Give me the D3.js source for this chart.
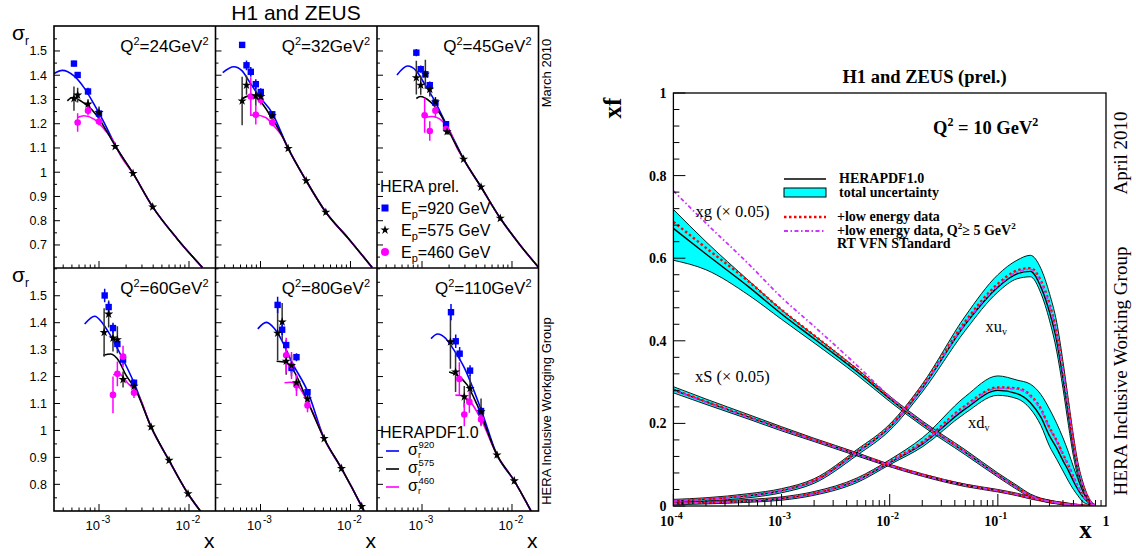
<!DOCTYPE html>
<html><head><meta charset="utf-8">
<script src="https://cdn.jsdelivr.net/npm/d3@7/dist/d3.min.js"></script>
<style>body{margin:0;background:#fff;} svg{display:block;}</style>
</head><body>
<svg id="c" width="1136" height="556"></svg>
<script>
// ---------- left figure data: reduced cross sections ----------
var q2Vals = [24, 32, 45, 60, 80, 110];

// [x, sigma_r, error]
var pts920 = [
  [[5.27e-4,1.448,0.012],[5.79e-4,1.401,0.012],[7.55e-4,1.333,0.015],[1.0e-3,1.242,0.012]],
  [[6.25e-4,1.525,0.012],[6.99e-4,1.441,0.02],[7.8e-4,1.414,0.02],[8.87e-4,1.363,0.02],[1.007e-3,1.331,0.015],[1.35e-3,1.239,0.01]],
  [[8.65e-4,1.493,0.015],[9.68e-4,1.425,0.015],[1.09e-3,1.404,0.015],[1.22e-3,1.359,0.015],[1.41e-3,1.287,0.012],[1.85e-3,1.198,0.01]],
  [[1.156e-3,1.501,0.025],[1.28e-3,1.458,0.02],[1.43e-3,1.38,0.02],[1.6e-3,1.321,0.02],[1.85e-3,1.263,0.02],[2.45e-3,1.177,0.012]],
  [[1.55e-3,1.466,0.03],[1.74e-3,1.374,0.02],[1.93e-3,1.317,0.02],[2.21e-3,1.232,0.02],[2.51e-3,1.272,0.015],[3.33e-3,1.142,0.012]],
  [[2.1e-3,1.439,0.03],[2.37e-3,1.331,0.025],[2.62e-3,1.285,0.025],[3.42e-3,1.222,0.02],[4.53e-3,1.072,0.015]]
];
var pts575 = [
  [[5.27e-4,1.304,0.05],[5.79e-4,1.318,0.03],[7.55e-4,1.281,0.02],[1.0e-3,1.246,0.025],[1.51e-3,1.106,0.01],[2.39e-3,0.995,0.01],[3.95e-3,0.857,0.01]],
  [[6.25e-4,1.294,0.1],[6.99e-4,1.359,0.04],[8.87e-4,1.315,0.04],[1.007e-3,1.312,0.02],[1.35e-3,1.233,0.015],[2.03e-3,1.098,0.01],[3.22e-3,0.965,0.01],[5.32e-3,0.835,0.01]],
  [[8.65e-4,1.39,0.07],[9.68e-4,1.359,0.04],[1.09e-3,1.404,0.06],[1.22e-3,1.342,0.03],[1.41e-3,1.29,0.02],[1.9e-3,1.167,0.012],[2.9e-3,1.054,0.01],[4.53e-3,0.939,0.01],[7.41e-3,0.81,0.01]],
  [[1.14e-3,1.364,0.09],[1.28e-3,1.432,0.05],[1.43e-3,1.343,0.05],[1.6e-3,1.337,0.05],[1.85e-3,1.189,0.03],[2.45e-3,1.164,0.015],[3.79e-3,1.013,0.01],[6.0e-3,0.889,0.01],[9.75e-3,0.765,0.01]],
  [[1.55e-3,1.361,0.1],[1.74e-3,1.403,0.07],[1.93e-3,1.257,0.05],[2.21e-3,1.241,0.04],[2.51e-3,1.177,0.03],[3.33e-3,1.117,0.015],[5.1e-3,0.97,0.01],[7.94e-3,0.859,0.01],[1.33e-2,0.718,0.01]],
  [[2.07e-3,1.329,0.1],[2.36e-3,1.217,0.074],[2.95e-3,1.125,0.04],[3.42e-3,1.156,0.05],[4.53e-3,1.069,0.05],[6.81e-3,0.909,0.012],[1.06e-2,0.813,0.012]]
];
var pts460 = [
  [[5.79e-4,1.205,0.038],[7.55e-4,1.254,0.02],[1.0e-3,1.209,0.015]],
  [[7.8e-4,1.312,0.08],[8.87e-4,1.237,0.04],[1.007e-3,1.298,0.02],[1.35e-3,1.205,0.015]],
  [[1.07e-3,1.235,0.072],[1.22e-3,1.17,0.04],[1.41e-3,1.254,0.03],[1.85e-3,1.178,0.015]],
  [[1.43e-3,1.132,0.068],[1.6e-3,1.21,0.046],[1.85e-3,1.274,0.04],[2.45e-3,1.14,0.02]],
  [[1.93e-3,1.279,0.065],[2.21e-3,1.241,0.05],[2.51e-3,1.168,0.04],[3.33e-3,1.093,0.025]],
  [[2.6e-3,1.191,0.062],[2.95e-3,1.059,0.043],[3.36e-3,1.106,0.04],[4.53e-3,1.041,0.025]]
];

// HERAPDF1.0 predictions, low-x part per beam energy, then common tail
var fit920 = [
  [[3.16e-4,1.407],[3.91e-4,1.42],[5.27e-4,1.397],[6.81e-4,1.349],[8.8e-4,1.281],[1.14e-3,1.205],[1.53e-3,1.109]],
  [[3.81e-4,1.411],[5.05e-4,1.435],[6.25e-4,1.418],[7.41e-4,1.377],[9.57e-4,1.315],[1.35e-3,1.244]],
  [[5.27e-4,1.401],[6.93e-4,1.438],[8.65e-4,1.418],[1.045e-3,1.37],[1.35e-3,1.301],[1.82e-3,1.205],[2.45e-3,1.109]],
  [[6.93e-4,1.395],[8.95e-4,1.424],[1.09e-3,1.399],[1.29e-3,1.362],[1.74e-3,1.281],[2.45e-3,1.177]],
  [[9.33e-4,1.377],[1.156e-3,1.401],[1.41e-3,1.38],[1.67e-3,1.343],[2.25e-3,1.251],[3.33e-3,1.146]],
  [[1.26e-3,1.341],[1.49e-3,1.358],[1.82e-3,1.343],[2.25e-3,1.3],[2.9e-3,1.238],[4.53e-3,1.078]]
];
var fit575 = [
  [[4.45e-4,1.294],[5.05e-4,1.308],[6.81e-4,1.285],[9.57e-4,1.232],[1.24e-3,1.164],[1.53e-3,1.106]],
  [[6.35e-4,1.304],[7.41e-4,1.315],[9.57e-4,1.298],[1.29e-3,1.233],[1.74e-3,1.15]],
  [[8.65e-4,1.304],[9.57e-4,1.312],[1.24e-3,1.29],[1.6e-3,1.239],[2.25e-3,1.13]],
  [[1.116e-3,1.279],[1.35e-3,1.284],[1.67e-3,1.257],[1.98e-3,1.207],[2.55e-3,1.152]],
  [[1.51e-3,1.257],[1.9e-3,1.253],[2.35e-3,1.22],[3.16e-3,1.127]],
  [[2.0e-3,1.217],[2.45e-3,1.205],[3.16e-3,1.17],[4.09e-3,1.096]]
];
var fit460 = [
  [[5.74e-4,1.226],[6.81e-4,1.233],[8.8e-4,1.219],[1.14e-3,1.178],[1.47e-3,1.123],[1.74e-3,1.068]],
  [[7.74e-4,1.235],[8.8e-4,1.236],[1.14e-3,1.226],[1.41e-3,1.191],[1.74e-3,1.148]],
  [[1.09e-3,1.226],[1.29e-3,1.23],[1.67e-3,1.212],[2.07e-3,1.164],[2.45e-3,1.1]],
  [[1.44e-3,1.207],[1.67e-3,1.21],[2.07e-3,1.177],[2.78e-3,1.127]],
  [[1.85e-3,1.177],[2.15e-3,1.179],[2.67e-3,1.161],[3.3e-3,1.109],[3.91e-3,1.059]],
  [[2.35e-3,1.131],[2.78e-3,1.13],[3.45e-3,1.106],[4.45e-3,1.047]]
];
var fitTail = [
  [[2.39e-3,0.995],[3.95e-3,0.857],[7.41e-3,0.725],[1.41e-2,0.607]],
  [[2.03e-3,1.098],[3.22e-3,0.965],[5.32e-3,0.835],[9.57e-3,0.725],[1.74e-2,0.607]],
  [[2.9e-3,1.054],[4.53e-3,0.939],[7.41e-3,0.81],[1.24e-2,0.698],[1.98e-2,0.607]],
  [[3.79e-3,1.013],[6.0e-3,0.889],[9.75e-3,0.765],[1.35e-2,0.699]],
  [[5.1e-3,0.97],[7.94e-3,0.859],[1.33e-2,0.718],[1.42e-2,0.699]],
  [[6.81e-3,0.909],[1.06e-2,0.813],[1.64e-2,0.699]]
];
var yTickTop = [0.7,0.8,0.9,1,1.1,1.2,1.3,1.4,1.5];
var yTickBot = [0.8,0.9,1,1.1,1.2,1.3,1.4,1.5];

// ---------- right figure data: parton densities at Q2 = 10 GeV2 ----------
var pdfX = [1e-4,2e-4,5e-4,1e-3,2e-3,5e-3,1e-2,2e-2,5e-2,0.1,0.15,0.2,0.25,0.3,0.35,0.4,0.45,0.5,0.55,0.6,0.7,0.8];
var gC   = [0.672,0.61,0.53,0.465,0.405,0.325,0.26,0.2,0.13,0.075,0.045,0.025,0.016,0.011,0.008,0.006,0.004,0.003,0.002,0.001,0,0];
var gHi  = [0.718,0.64,0.545,0.475,0.413,0.332,0.266,0.206,0.136,0.08,0.05,0.029,0.019,0.014,0.01,0.008,0.006,0.004,0.003,0.002,0.001,0];
var gLo  = [0.595,0.572,0.51,0.452,0.395,0.317,0.253,0.194,0.124,0.07,0.04,0.021,0.013,0.008,0.006,0.004,0.002,0.001,0.001,0,0,0];
var gRed = [0.688,0.625,0.543,0.475,0.413,0.33,0.262,0.201,0.131,0.075,0.045,0.025,0.016,0.011,0.008,0.006,0.004,0.003,0.002,0.001,0,0];
var gMag = [0.763,0.685,0.585,0.505,0.435,0.34,0.265,0.202,0.13,0.074,0.044,0.025,0.016,0.011,0.008,0.006,0.004,0.003,0.002,0.001,0,0];
var sC   = [0.281,0.252,0.215,0.187,0.16,0.125,0.098,0.075,0.05,0.037,0.028,0.02,0.015,0.011,0.008,0.006,0.004,0.003,0.002,0.001,0,0];
var sHi  = [0.289,0.259,0.221,0.192,0.164,0.129,0.101,0.078,0.053,0.04,0.031,0.023,0.018,0.014,0.011,0.009,0.007,0.005,0.004,0.003,0.001,0];
var sLo  = [0.274,0.246,0.21,0.182,0.156,0.121,0.095,0.072,0.047,0.034,0.025,0.017,0.012,0.008,0.005,0.003,0.002,0.001,0,0,0,0];
var sRed = [0.282,0.253,0.216,0.188,0.161,0.126,0.099,0.076,0.051,0.037,0.028,0.02,0.015,0.011,0.008,0.006,0.004,0.003,0.002,0.001,0,0];
var sMag = [0.28,0.251,0.214,0.186,0.16,0.125,0.098,0.075,0.05,0.037,0.028,0.02,0.015,0.011,0.008,0.006,0.004,0.003,0.002,0.001,0,0];
var uC   = [0.012,0.016,0.025,0.037,0.06,0.13,0.19,0.285,0.44,0.53,0.562,0.568,0.53,0.47,0.4,0.31,0.22,0.14,0.085,0.05,0.012,0];
var uHi  = [0.016,0.02,0.03,0.042,0.066,0.137,0.198,0.295,0.46,0.56,0.595,0.607,0.575,0.515,0.445,0.35,0.255,0.17,0.105,0.065,0.018,0.002];
var uLo  = [0.008,0.012,0.02,0.032,0.055,0.123,0.183,0.276,0.425,0.518,0.55,0.555,0.515,0.45,0.375,0.285,0.195,0.12,0.07,0.04,0.008,0];
var uRed = [0.013,0.017,0.026,0.038,0.062,0.132,0.193,0.29,0.447,0.538,0.57,0.576,0.545,0.49,0.42,0.33,0.24,0.155,0.095,0.057,0.015,0.001];
var uMag = [0.012,0.016,0.025,0.037,0.06,0.129,0.19,0.286,0.442,0.533,0.566,0.573,0.54,0.485,0.415,0.325,0.235,0.152,0.093,0.055,0.014,0.001];
var dC   = [0.006,0.008,0.012,0.018,0.03,0.062,0.105,0.15,0.235,0.28,0.272,0.25,0.215,0.17,0.14,0.11,0.085,0.06,0.04,0.025,0.007,0];
var dHi  = [0.009,0.011,0.016,0.022,0.035,0.068,0.112,0.165,0.265,0.315,0.305,0.295,0.27,0.235,0.2,0.165,0.13,0.095,0.065,0.04,0.012,0.001];
var dLo  = [0.003,0.005,0.009,0.014,0.026,0.057,0.1,0.143,0.225,0.268,0.26,0.235,0.195,0.145,0.113,0.085,0.06,0.04,0.025,0.012,0.003,0];
var dRed = [0.007,0.009,0.013,0.019,0.031,0.064,0.108,0.155,0.243,0.287,0.285,0.268,0.235,0.19,0.158,0.126,0.098,0.07,0.047,0.03,0.009,0];
var dMag = [0.006,0.008,0.012,0.018,0.03,0.062,0.106,0.152,0.24,0.285,0.283,0.265,0.232,0.188,0.156,0.124,0.096,0.069,0.046,0.029,0.008,0];
var yTickR = [0, 0.2, 0.4, 0.6, 0.8, 1];
var yTickRLab = ["0", "0.2", "0.4", "0.6", "0.8", "1"];

var sans = "'Liberation Sans', Arial, Helvetica, sans-serif";
var serif = "'Liberation Serif', 'Times New Roman', serif";
var svg = d3.select("#c");
var BLUE = "#0000ff", MAG = "#ff00ff";

// ================= LEFT FIGURE =================
var colLeft = [54, 215.5, 377], colW = 161.5;
var rowTop = [26, 268], rowH = [242, 243];
var yDom = [[0.605, 1.603], [0.701, 1.603]];
var xL = d3.scaleLog().domain([3.162e-4, 1.97e-2]).range([0, colW]);

svg.append("text").attr("x", 296).attr("y", 20).attr("text-anchor", "middle")
  .attr("font-family", sans).attr("font-size", 21).text("H1 and ZEUS");

var defs = svg.append("defs");
var line = d3.line().x(function(d){ return xL(d[0]); }).y(function(d){ return d[1]; }).curve(d3.curveMonotoneX);

function drawPanel(i) {
  var col = i % 3, row = Math.floor(i / 3);
  var y = d3.scaleLinear().domain(yDom[row]).range([rowH[row], 0]);
  var g = svg.append("g").attr("transform", "translate(" + colLeft[col] + "," + rowTop[row] + ")");
  defs.append("clipPath").attr("id", "clp" + i).append("rect").attr("width", colW).attr("height", rowH[row]);
  var pg = g.append("g").attr("clip-path", "url(#clp" + i + ")");

  function curve(part, color) {
    var pts = part.concat(fitTail[i]).map(function(d){ return [d[0], y(d[1])]; });
    pg.append("path").attr("d", line(pts)).attr("fill", "none").attr("stroke", color).attr("stroke-width", 1.6);
  }
  curve(fit920[i], BLUE);
  curve(fit460[i], MAG);
  curve(fit575[i], "#000");

  function errs(data, color) {
    pg.selectAll(null).data(data).enter().append("line")
      .attr("x1", function(d){ return xL(d[0]); }).attr("x2", function(d){ return xL(d[0]); })
      .attr("y1", function(d){ return y(d[1] - d[2]); }).attr("y2", function(d){ return y(d[1] + d[2]); })
      .attr("stroke", color).attr("stroke-width", 1.5);
  }
  errs(pts575[i], "#333");
  errs(pts920[i], BLUE);
  errs(pts460[i], MAG);

  pg.selectAll(null).data(pts920[i]).enter().append("rect")
    .attr("x", function(d){ return xL(d[0]) - 3.2; }).attr("y", function(d){ return y(d[1]) - 3.2; })
    .attr("width", 6.4).attr("height", 6.4).attr("fill", BLUE);
  pg.selectAll(null).data(pts460[i]).enter().append("circle")
    .attr("cx", function(d){ return xL(d[0]); }).attr("cy", function(d){ return y(d[1]); })
    .attr("r", 3.3).attr("fill", MAG);
  pg.selectAll(null).data(pts575[i]).enter().append("path")
    .attr("d", d3.symbol(d3.symbolStar, 26))
    .attr("transform", function(d){ return "translate(" + xL(d[0]) + "," + y(d[1]) + ")"; })
    .attr("fill", "#000");

  // y ticks (inward) on the left edge
  var major = row === 0 ? yTickTop : yTickBot;
  var minor = d3.range(yDom[row][0], yDom[row][1], 0.05).map(function(v){ return Math.round(v * 20) / 20; })
    .filter(function(v){ return v >= yDom[row][0] && v <= yDom[row][1]; });
  g.selectAll(null).data(minor).enter().append("line")
    .attr("x1", 0).attr("x2", function(d){ return major.some(function(m){ return Math.abs(m - d) < 1e-6; }) ? 6 : 3; })
    .attr("y1", function(d){ return y(d); }).attr("y2", function(d){ return y(d); })
    .attr("stroke", "#000").attr("stroke-width", 1);
  if (col === 0) {
    g.selectAll(null).data(major).enter().append("text")
      .attr("x", -7).attr("y", function(d){ return y(d) + 4.5; }).attr("text-anchor", "end")
      .attr("font-family", sans).attr("font-size", 12.5)
      .text(function(d){ return d === 1 ? "1" : d3.format(".1f")(d); });
  }
  // x ticks (inward) on the bottom edge
  var xt = [];
  [1e-4, 1e-3, 1e-2].forEach(function(dec){ for (var k = 1; k < 10; k++) xt.push(dec * k); });
  xt = xt.filter(function(v){ return v >= 3.162e-4 && v <= 1.97e-2; });
  g.selectAll(null).data(xt).enter().append("line")
    .attr("x1", function(d){ return xL(d); }).attr("x2", function(d){ return xL(d); })
    .attr("y1", rowH[row]).attr("y2", function(d){ return rowH[row] - (Math.abs(Math.log10(d) - Math.round(Math.log10(d))) < 1e-6 ? 7 : 3.5); })
    .attr("stroke", "#000").attr("stroke-width", 1);
  if (row === 1) {
    [[1e-3, "-3"], [1e-2, "-2"]].forEach(function(t){
      g.append("text").attr("x", xL(t[0]) + 1).attr("y", rowH[row] + 19).attr("text-anchor", "end")
        .attr("font-family", sans).attr("font-size", 13).text("10");
      g.append("text").attr("x", xL(t[0]) + 2.5).attr("y", rowH[row] + 12).attr("font-family", sans).attr("font-size", 10).text(t[1]);
    });
    g.append("text").attr("x", colW - 1).attr("y", rowH[row] + 37).attr("text-anchor", "end")
      .attr("font-family", sans).attr("font-size", 21).text("x");
  }
  // Q2 label
  var ql = g.append("text").attr("x", colW - 7).attr("y", 26).attr("text-anchor", "end")
    .attr("font-family", sans).attr("font-size", 17);
  ql.append("tspan").text("Q");
  ql.append("tspan").attr("dy", -7).attr("font-size", 11).text("2");
  ql.append("tspan").attr("dy", 7).text("=" + q2Vals[i] + "GeV");
  ql.append("tspan").attr("dy", -7).attr("font-size", 11).text("2");
}
for (var i = 0; i < 6; i++) drawPanel(i);

// frames
svg.append("rect").attr("x", colLeft[0]).attr("y", rowTop[0]).attr("width", colW * 3).attr("height", rowH[0] + rowH[1])
  .attr("fill", "none").attr("stroke", "#000").attr("stroke-width", 1.6);
[1, 2].forEach(function(c){
  svg.append("line").attr("x1", colLeft[c]).attr("x2", colLeft[c]).attr("y1", rowTop[0]).attr("y2", rowTop[1] + rowH[1])
    .attr("stroke", "#000").attr("stroke-width", 1.6);
});
svg.append("line").attr("x1", colLeft[0]).attr("x2", colLeft[0] + colW * 3).attr("y1", rowTop[1]).attr("y2", rowTop[1])
  .attr("stroke", "#000").attr("stroke-width", 1.6);

// sigma_r axis titles
[[12, 40], [12, 282]].forEach(function(p){
  svg.append("text").attr("x", p[0]).attr("y", p[1]).attr("font-family", sans).attr("font-size", 21).text("σ");
  svg.append("text").attr("x", p[0] + 13).attr("y", p[1] + 5).attr("font-family", sans).attr("font-size", 12).text("r");
});

// legend: data
svg.append("text").attr("x", 380).attr("y", 192).attr("font-family", sans).attr("font-size", 16).text("HERA prel.");
var legE = [["920", 208], ["575", 230], ["460", 252]];
legE.forEach(function(e, k){
  if (k === 0) svg.append("rect").attr("x", 381.5).attr("y", e[1] - 3.5).attr("width", 7).attr("height", 7).attr("fill", BLUE);
  if (k === 1) svg.append("path").attr("d", d3.symbol(d3.symbolStar, 26)).attr("transform", "translate(385," + e[1] + ")").attr("fill", "#000");
  if (k === 2) svg.append("circle").attr("cx", 385).attr("cy", e[1]).attr("r", 4).attr("fill", MAG);
  var t = svg.append("text").attr("x", 401).attr("y", e[1] + 6).attr("font-family", sans).attr("font-size", 16);
  t.append("tspan").text("E");
  t.append("tspan").attr("dy", 4).attr("font-size", 11).text("p");
  t.append("tspan").attr("dy", -4).text("=" + e[0] + " GeV");
});
// legend: predictions (sigma with stacked subscript r and superscript energy, one text each)
svg.append("text").attr("x", 380).attr("y", 438).attr("font-family", sans).attr("font-size", 16).text("HERAPDF1.0");
[["920", 451, BLUE], ["575", 469, "#000"], ["460", 487, MAG]].forEach(function(e){
  svg.append("line").attr("x1", 386).attr("x2", 399).attr("y1", e[1]).attr("y2", e[1]).attr("stroke", e[2]).attr("stroke-width", 1.6);
  var t = svg.append("text").attr("x", 408).attr("y", e[1] + 4).attr("font-family", sans).attr("font-size", 16);
  t.append("tspan").text("σ");
  t.append("tspan").attr("x", 418).attr("dy", 3).attr("font-size", 9).text("r");
  t.append("tspan").attr("x", 418.5).attr("dy", -10).attr("font-size", 9.5).text(e[0]);
});

svg.append("text").attr("transform", "translate(551,73) rotate(-90)").attr("text-anchor", "middle")
  .attr("font-family", sans).attr("font-size", 13).text("March 2010");
svg.append("text").attr("transform", "translate(551,411) rotate(-90)").attr("text-anchor", "middle")
  .attr("font-family", sans).attr("font-size", 13).text("HERA Inclusive Workging Group");

// ================= RIGHT FIGURE =================
var fr = {x0: 673.4, x1: 1106, y0: 93, y1: 506};
var xR = d3.scaleLog().domain([1e-4, 1]).range([fr.x0, fr.x1]);
var yR = d3.scaleLinear().domain([0, 1]).range([fr.y1, fr.y0]);
defs.append("clipPath").attr("id", "clpR").append("rect")
  .attr("x", fr.x0).attr("y", fr.y0).attr("width", fr.x1 - fr.x0).attr("height", fr.y1 - fr.y0);
var rg = svg.append("g").attr("clip-path", "url(#clpR)");

function rows(arr) { return pdfX.map(function(x, k){ return [x, arr[k]]; }); }
var lineR = d3.line().x(function(d){ return xR(d[0]); }).y(function(d){ return yR(d[1]); }).curve(d3.curveMonotoneX);
var areaR = d3.area().x(function(d){ return xR(d.x); }).y0(function(d){ return yR(d.lo); }).y1(function(d){ return yR(d.hi); })
  .curve(d3.curveMonotoneX);

var pdfs = [[gC, gHi, gLo, gRed, gMag], [sC, sHi, sLo, sRed, sMag], [uC, uHi, uLo, uRed, uMag], [dC, dHi, dLo, dRed, dMag]];
pdfs.forEach(function(p){
  var band = pdfX.map(function(x, k){ return {x: x, lo: p[2][k], hi: p[1][k]}; });
  rg.append("path").attr("d", areaR(band)).attr("fill", "#00ffff").attr("stroke", "none");
});
pdfs.forEach(function(p){
  rg.append("path").attr("d", lineR(rows(p[1]))).attr("fill", "none").attr("stroke", "#000").attr("stroke-width", 0.9);
  rg.append("path").attr("d", lineR(rows(p[2]))).attr("fill", "none").attr("stroke", "#000").attr("stroke-width", 0.9);
  rg.append("path").attr("d", lineR(rows(p[0]))).attr("fill", "none").attr("stroke", "#000").attr("stroke-width", 1.4);
});
pdfs.forEach(function(p){
  rg.append("path").attr("d", lineR(rows(p[3]))).attr("fill", "none").attr("stroke", "#ff0000")
    .attr("stroke-width", 2.4).attr("stroke-dasharray", "2.5,2.5");
  rg.append("path").attr("d", lineR(rows(p[4]))).attr("fill", "none").attr("stroke", "#cc33ff")
    .attr("stroke-width", 1.8).attr("stroke-dasharray", "4,2.5,1.5,2.5");
});

svg.append("rect").attr("x", fr.x0).attr("y", fr.y0).attr("width", fr.x1 - fr.x0).attr("height", fr.y1 - fr.y0)
  .attr("fill", "none").attr("stroke", "#000").attr("stroke-width", 1.3);

// y ticks
var yMinorR = d3.range(0, 26).map(function(k){ return k * 0.04; });
svg.selectAll(null).data(yMinorR).enter().append("line")
  .attr("x1", fr.x0).attr("x2", function(d, k){ return fr.x0 + (k % 5 === 0 ? 12 : 6); })
  .attr("y1", function(d){ return yR(d); }).attr("y2", function(d){ return yR(d); })
  .attr("stroke", "#000").attr("stroke-width", 1);
svg.selectAll(null).data(yTickR).enter().append("text")
  .attr("x", fr.x0 - 7).attr("y", function(d){ return yR(d) + 5; }).attr("text-anchor", "end")
  .attr("font-family", serif).attr("font-weight", "bold").attr("font-size", 14)
  .text(function(d, k){ return yTickRLab[k]; });
// x ticks
var xtR = [];
[1e-4, 1e-3, 1e-2, 1e-1].forEach(function(dec){ for (var k = 1; k < 10; k++) xtR.push(dec * k); });
svg.selectAll(null).data(xtR).enter().append("line")
  .attr("x1", function(d){ return xR(d); }).attr("x2", function(d){ return xR(d); })
  .attr("y1", fr.y1).attr("y2", function(d, k){ return fr.y1 - (k % 9 === 0 ? 12 : 6); })
  .attr("stroke", "#000").attr("stroke-width", 1);
[[1e-4, "-4"], [1e-3, "-3"], [1e-2, "-2"], [1e-1, "-1"]].forEach(function(t){
  svg.append("text").attr("x", xR(t[0]) + 0.5).attr("y", 526).attr("text-anchor", "end")
    .attr("font-family", serif).attr("font-weight", "bold").attr("font-size", 14).text("10");
  svg.append("text").attr("x", xR(t[0]) + 1).attr("y", 519)
    .attr("font-family", serif).attr("font-weight", "bold").attr("font-size", 10).text(t[1]);
});
svg.append("text").attr("x", fr.x1).attr("y", 526).attr("text-anchor", "middle")
  .attr("font-family", serif).attr("font-weight", "bold").attr("font-size", 14).text("1");
svg.append("text").attr("x", 1085.5).attr("y", 538).attr("text-anchor", "middle")
  .attr("font-family", serif).attr("font-weight", "bold").attr("font-size", 25).text("x");
svg.append("text").attr("transform", "translate(621,108) rotate(-90)").attr("text-anchor", "middle")
  .attr("font-family", serif).attr("font-weight", "bold").attr("font-size", 25).text("xf");

svg.append("text").attr("x", 924.5).attr("y", 83).attr("text-anchor", "middle")
  .attr("font-family", serif).attr("font-weight", "bold").attr("font-size", 18.5).text("H1 and ZEUS (prel.)");
var qt = svg.append("text").attr("x", 933).attr("y", 134)
  .attr("font-family", serif).attr("font-weight", "bold").attr("font-size", 18.5);
qt.append("tspan").text("Q");
qt.append("tspan").attr("dy", -8).attr("font-size", 12).text("2");
qt.append("tspan").attr("dy", 8).text(" = 10 GeV");
qt.append("tspan").attr("dy", -8).attr("font-size", 12).text("2");

// legend
var lx0 = 784, lx1 = 826;
svg.append("line").attr("x1", lx0).attr("x2", lx1).attr("y1", 179).attr("y2", 179).attr("stroke", "#000").attr("stroke-width", 1.4);
svg.append("rect").attr("x", lx0).attr("y", 188).attr("width", lx1 - lx0).attr("height", 9)
  .attr("fill", "#00ffff").attr("stroke", "#000").attr("stroke-width", 1);
svg.append("line").attr("x1", lx0).attr("x2", lx1).attr("y1", 217).attr("y2", 217)
  .attr("stroke", "#ff0000").attr("stroke-width", 2.4).attr("stroke-dasharray", "2.5,2.5");
svg.append("line").attr("x1", lx0).attr("x2", lx1).attr("y1", 231).attr("y2", 231)
  .attr("stroke", "#cc33ff").attr("stroke-width", 1.8).attr("stroke-dasharray", "4,2.5,1.5,2.5");
function legT(x, y, s) {
  return svg.append("text").attr("x", x).attr("y", y).attr("font-family", serif).attr("font-weight", "bold")
    .attr("font-size", 14).text(s);
}
legT(839, 183, "HERAPDF1.0");
legT(839, 197, "total uncertainty");
legT(837, 221, "+low energy data");
var l4 = legT(837, 235, "+low energy data, Q");
l4.append("tspan").attr("dy", -6).attr("font-size", 9).text("2");
l4.append("tspan").attr("dy", 6).text("≥ 5 GeV");
l4.append("tspan").attr("dy", -6).attr("font-size", 9).text("2");
legT(837, 248, "RT VFN STandard");

// curve labels
function curveLab(x, y, main, sub) {
  var t = svg.append("text").attr("x", x).attr("y", y).attr("font-family", serif).attr("font-size", 16.5).text(main);
  if (sub) t.append("tspan").attr("dy", 3).attr("font-size", 10).text(sub);
}
curveLab(695.5, 217, "xg (× 0.05)");
curveLab(695, 382, "xS (× 0.05)");
curveLab(985.5, 332, "xu", "v");
curveLab(968, 428, "xd", "v");

svg.append("text").attr("transform", "translate(1127,153) rotate(-90)").attr("text-anchor", "middle")
  .attr("font-family", serif).attr("font-size", 19).text("April 2010");
svg.append("text").attr("transform", "translate(1127,371) rotate(-90)").attr("text-anchor", "middle")
  .attr("font-family", serif).attr("font-size", 19).text("HERA Inclusive Working Group");
</script>
</body></html>
